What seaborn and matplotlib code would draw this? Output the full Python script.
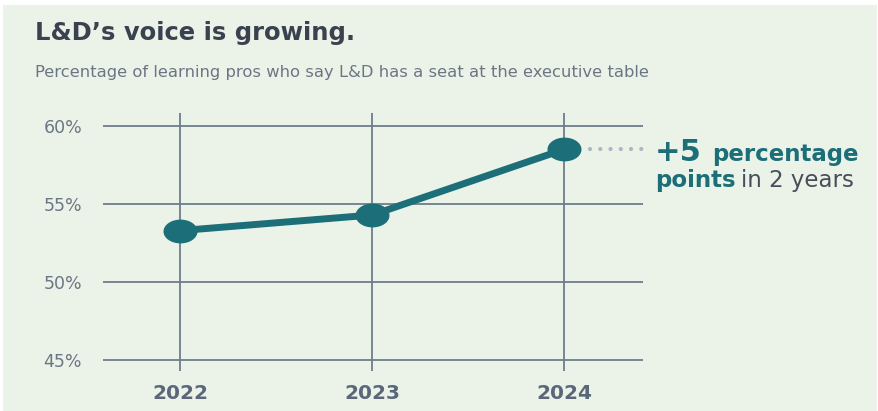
import matplotlib
matplotlib.use("Agg")
import matplotlib.pyplot as plt
from matplotlib.path import Path
from matplotlib.patches import Rectangle
import numpy as np
import pandas as pd
import seaborn as sns

# Share of learning pros who say L&D has a seat at the executive table
years = [2022, 2023, 2024]
share = [53.3, 54.3, 58.5]
y_ticks = [45, 50, 55, 60]
y_tick_labels = ["45%", "50%", "55%", "60%"]

title = "L&D\u2019s voice is growing."
subtitle = "Percentage of learning pros who say L&D has a seat at the executive table"

BG = "#EBF3E8"
TEAL = "#1C6F78"
GRID = "#6E7C8C"
LABEL = "#6B7684"
DARK = "#3A4250"

sns.set_theme(style="white")
plt.rcParams["font.family"] = ["DejaVu Sans"]

W, H = 879, 411
fig = plt.figure(figsize=(W / 100, H / 100), dpi=100, facecolor="white")
fig.patches.append(Rectangle((3 / W, 0), (W - 5) / W, (H - 5) / H,
                             transform=fig.transFigure, facecolor=BG,
                             edgecolor="none", zorder=-10))

ax = fig.add_axes([103 / W, 40 / H, 540 / W, 258 / H])
ax.set_facecolor("none")

df = pd.DataFrame({"year": years, "share": share})

# elliptical marker
t = np.linspace(0, 2 * np.pi, 60)
ellipse = Path(np.column_stack([np.cos(t), 0.70 * np.sin(t)]), closed=True)

sns.lineplot(data=df, x="year", y="share", ax=ax, color=TEAL, linewidth=5.0,
             marker=ellipse, markersize=24.5, markeredgewidth=0,
             markerfacecolor=TEAL, zorder=5, solid_capstyle="round")

ax.set_xlim(2021.596, 2024.412)
ax.set_ylim(44.31, 60.83)
ax.set_xticks(years)
ax.set_xticklabels([str(y) for y in years])
ax.set_yticks(y_ticks)
ax.set_yticklabels(y_tick_labels)
ax.set_xlabel("")
ax.set_ylabel("")
for s in ax.spines.values():
    s.set_visible(False)
ax.grid(True, color=GRID, linewidth=1.3, zorder=1)
ax.set_axisbelow(True)
ax.tick_params(axis="x", length=0, pad=9, labelsize=14.5, labelcolor="#5A6779")
ax.tick_params(axis="y", length=0, pad=15, labelsize=12.5, labelcolor=LABEL)
for lbl in ax.get_xticklabels():
    lbl.set_fontweight("bold")

# dotted connector to annotation
ax.plot([2024 + 26 / 191.75, 2024 + 86 / 191.75], [share[-1], share[-1]],
        color="#A9B6C6", linewidth=3, linestyle=(0, (0.01, 2.45)),
        dash_capstyle="round", clip_on=False, zorder=2)

# titles
fig.text(35 / W, 1 - 33 / H, title, fontsize=17.5, fontweight="bold",
         color=DARK, va="center", ha="left")
fig.text(35 / W, 1 - 73 / H, subtitle, fontsize=11.8, color=LABEL,
         va="center", ha="left")

# annotation, laid out run by run
renderer = fig.canvas.get_renderer()


def run(x_px, y_px, s, **kw):
    txt = fig.text(x_px / W, 1 - y_px / H, s, va="baseline", ha="left", **kw)
    return txt.get_window_extent(renderer).x1


x_end = run(655, 161, "+5", fontsize=22, fontweight="bold", color=TEAL)
run(x_end + 10, 161, "percentage", fontsize=16.5, fontweight="bold", color=TEAL)
x_end = run(655, 187, "points", fontsize=16.5, fontweight="bold", color=TEAL)
run(x_end + 5, 187, "in 2 years", fontsize=16.5, color="#464E5C")

fig.savefig("out.png", dpi=100, facecolor="white")
